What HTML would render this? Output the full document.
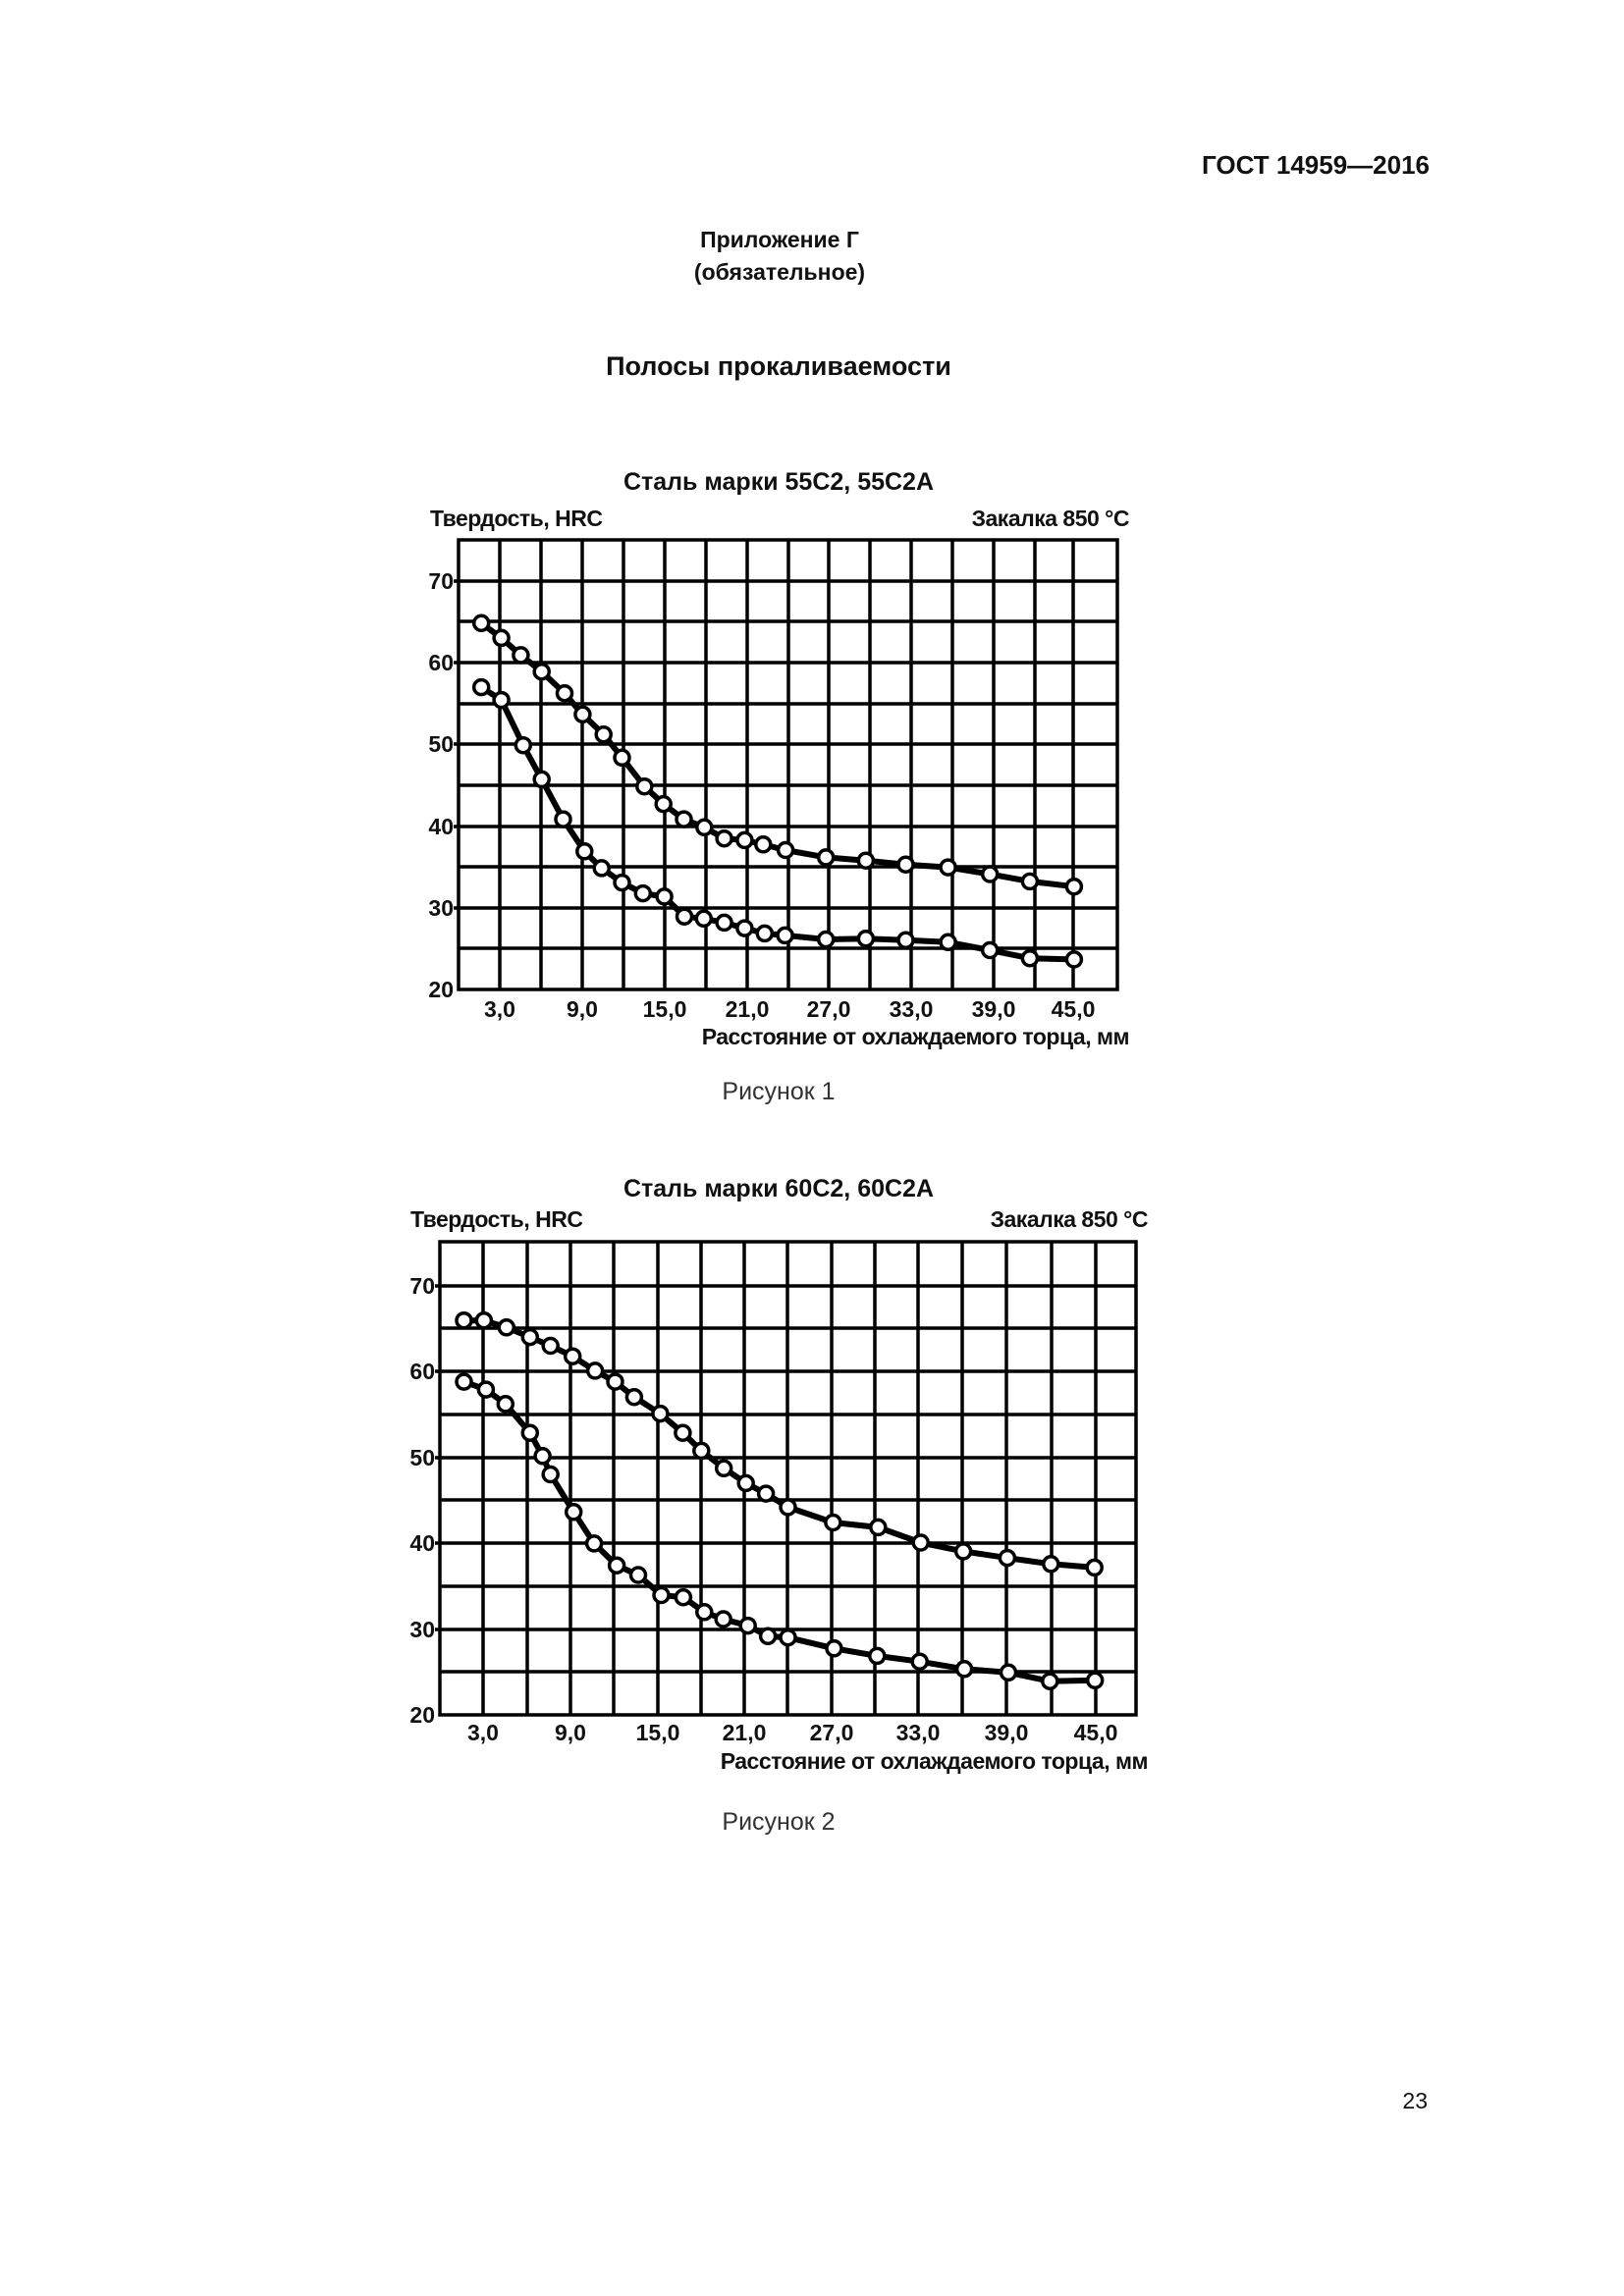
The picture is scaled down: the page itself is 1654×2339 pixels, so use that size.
<!DOCTYPE html>
<html><head><meta charset="utf-8"><style>
html,body{margin:0;padding:0;background:#fff}
svg{display:block}
text{font-family:"Liberation Sans",Arial,sans-serif;fill:#111}
.b{font-weight:bold}
.g line{stroke:#000;stroke-width:3.5}
.d{fill:none;stroke:#000;stroke-width:6;stroke-linejoin:round}
.c circle{fill:#fff;stroke:#000;stroke-width:3.5}
</style></head><body>
<svg width="1654" height="2339" viewBox="0 0 1654 2339" xmlns="http://www.w3.org/2000/svg">
<text x="1456" y="177" class="b" font-size="26" text-anchor="end">ГОСТ 14959—2016</text>
<text x="794" y="252" class="b" font-size="23" text-anchor="middle">Приложение Г</text>
<text x="794" y="285" class="b" font-size="23" text-anchor="middle">(обязательное)</text>
<text x="793" y="382" class="b" font-size="27" text-anchor="middle">Полосы прокаливаемости</text>

<!-- Chart 1 -->
<text x="793" y="499" class="b" font-size="25" text-anchor="middle">Сталь марки 55С2, 55С2А</text>
<text x="438" y="536" class="b" font-size="23" letter-spacing="-0.5">Твердость, HRC</text>
<text x="1150" y="536" class="b" font-size="23" text-anchor="end" letter-spacing="-0.5">Закалка 850 °С</text>
<g class="g">
<rect x="467" y="550" width="671" height="458" fill="none" stroke="#000" stroke-width="3.5"/>
<line x1="509" y1="550" x2="509" y2="1008"/><line x1="551" y1="550" x2="551" y2="1008"/><line x1="593" y1="550" x2="593" y2="1008"/><line x1="635" y1="550" x2="635" y2="1008"/><line x1="677" y1="550" x2="677" y2="1008"/><line x1="719" y1="550" x2="719" y2="1008"/><line x1="761" y1="550" x2="761" y2="1008"/><line x1="803" y1="550" x2="803" y2="1008"/><line x1="844" y1="550" x2="844" y2="1008"/><line x1="886" y1="550" x2="886" y2="1008"/><line x1="928" y1="550" x2="928" y2="1008"/><line x1="970" y1="550" x2="970" y2="1008"/><line x1="1012" y1="550" x2="1012" y2="1008"/><line x1="1054" y1="550" x2="1054" y2="1008"/><line x1="1093" y1="550" x2="1093" y2="1008"/>
<line x1="462" y1="592" x2="1138" y2="592"/><line x1="467" y1="633" x2="1138" y2="633"/><line x1="462" y1="675" x2="1138" y2="675"/><line x1="467" y1="717" x2="1138" y2="717"/><line x1="462" y1="758" x2="1138" y2="758"/><line x1="467" y1="800" x2="1138" y2="800"/><line x1="462" y1="842" x2="1138" y2="842"/><line x1="467" y1="883" x2="1138" y2="883"/><line x1="462" y1="925" x2="1138" y2="925"/><line x1="467" y1="966" x2="1138" y2="966"/>
</g>
<g class="b" font-size="23" text-anchor="end">
<text x="462" y="600">70</text><text x="462" y="683">60</text><text x="462" y="766">50</text><text x="462" y="850">40</text><text x="462" y="933">30</text><text x="462" y="1016">20</text>
</g>
<g class="b" font-size="23" text-anchor="middle">
<text x="509" y="1036">3,0</text><text x="593" y="1036">9,0</text><text x="677" y="1036">15,0</text><text x="761" y="1036">21,0</text><text x="844" y="1036">27,0</text><text x="928" y="1036">33,0</text><text x="1012" y="1036">39,0</text><text x="1093" y="1036">45,0</text>
</g>
<text x="1150" y="1064" class="b" font-size="23" text-anchor="end" letter-spacing="-0.5">Расстояние от охлаждаемого торца, мм</text>
<polyline class="d" points="490.2,634.8 510.6,649.9 530.4,667.4 551.7,684.2 575,706.2 593.4,727.8 614.7,748.2 633.5,771.8 656.3,801.2 675.7,819.1 696.5,834.6 717.3,842.8 737.6,854.2 758.4,855.9 777.3,860.3 800.1,866 841.2,873.4 881.9,876.7 922.5,880.7 965.6,883.6 1008.2,890.5 1048.9,897.9 1093.9,903.2"/>
<polyline class="d" points="490.2,700.1 510.6,713.1 532.8,759.2 551.7,793.9 573.5,834.6 595.3,867.3 612.7,884.4 633.5,899.1 654.8,910.1 676.6,913.4 697,933.7 716.8,935.8 737.6,939.9 758.4,945.6 778.8,950.9 799.6,952.9 841.2,957 881.9,956.2 922.5,957.8 965.6,959.8 1008.2,968 1048.9,976.2 1093.9,977.4"/>
<g class="c">
<circle cx="490.2" cy="634.8" r="7.5"/><circle cx="510.6" cy="649.9" r="7.5"/><circle cx="530.4" cy="667.4" r="7.5"/><circle cx="551.7" cy="684.2" r="7.5"/><circle cx="575" cy="706.2" r="7.5"/><circle cx="593.4" cy="727.8" r="7.5"/><circle cx="614.7" cy="748.2" r="7.5"/><circle cx="633.5" cy="771.8" r="7.5"/><circle cx="656.3" cy="801.2" r="7.5"/><circle cx="675.7" cy="819.1" r="7.5"/><circle cx="696.5" cy="834.6" r="7.5"/><circle cx="717.3" cy="842.8" r="7.5"/><circle cx="737.6" cy="854.2" r="7.5"/><circle cx="758.4" cy="855.9" r="7.5"/><circle cx="777.3" cy="860.3" r="7.5"/><circle cx="800.1" cy="866" r="7.5"/><circle cx="841.2" cy="873.4" r="7.5"/><circle cx="881.9" cy="876.7" r="7.5"/><circle cx="922.5" cy="880.7" r="7.5"/><circle cx="965.6" cy="883.6" r="7.5"/><circle cx="1008.2" cy="890.5" r="7.5"/><circle cx="1048.9" cy="897.9" r="7.5"/><circle cx="1093.9" cy="903.2" r="7.5"/>
<circle cx="490.2" cy="700.1" r="7.5"/><circle cx="510.6" cy="713.1" r="7.5"/><circle cx="532.8" cy="759.2" r="7.5"/><circle cx="551.7" cy="793.9" r="7.5"/><circle cx="573.5" cy="834.6" r="7.5"/><circle cx="595.3" cy="867.3" r="7.5"/><circle cx="612.7" cy="884.4" r="7.5"/><circle cx="633.5" cy="899.1" r="7.5"/><circle cx="654.8" cy="910.1" r="7.5"/><circle cx="676.6" cy="913.4" r="7.5"/><circle cx="697" cy="933.7" r="7.5"/><circle cx="716.8" cy="935.8" r="7.5"/><circle cx="737.6" cy="939.9" r="7.5"/><circle cx="758.4" cy="945.6" r="7.5"/><circle cx="778.8" cy="950.9" r="7.5"/><circle cx="799.6" cy="952.9" r="7.5"/><circle cx="841.2" cy="957" r="7.5"/><circle cx="881.9" cy="956.2" r="7.5"/><circle cx="922.5" cy="957.8" r="7.5"/><circle cx="965.6" cy="959.8" r="7.5"/><circle cx="1008.2" cy="968" r="7.5"/><circle cx="1048.9" cy="976.2" r="7.5"/><circle cx="1093.9" cy="977.4" r="7.5"/>
</g>
<text x="793" y="1120" font-size="25" text-anchor="middle" style="fill:#333">Рисунок 1</text>

<!-- Chart 2 -->
<text x="793" y="1219" class="b" font-size="25" text-anchor="middle">Сталь марки 60С2, 60С2А</text>
<text x="418" y="1259" class="b" font-size="23" letter-spacing="-0.5" transform="translate(0,-9)">Твердость, HRC</text>
<text x="1169" y="1250" class="b" font-size="23" text-anchor="end" letter-spacing="-0.5">Закалка 850 °С</text>
<g class="g">
<rect x="448" y="1265" width="709" height="482" fill="none" stroke="#000" stroke-width="3.5"/>
<line x1="492" y1="1265" x2="492" y2="1747"/><line x1="537" y1="1265" x2="537" y2="1747"/><line x1="581" y1="1265" x2="581" y2="1747"/><line x1="625" y1="1265" x2="625" y2="1747"/><line x1="670" y1="1265" x2="670" y2="1747"/><line x1="714" y1="1265" x2="714" y2="1747"/><line x1="758" y1="1265" x2="758" y2="1747"/><line x1="802" y1="1265" x2="802" y2="1747"/><line x1="847" y1="1265" x2="847" y2="1747"/><line x1="891" y1="1265" x2="891" y2="1747"/><line x1="935" y1="1265" x2="935" y2="1747"/><line x1="980" y1="1265" x2="980" y2="1747"/><line x1="1025" y1="1265" x2="1025" y2="1747"/><line x1="1071" y1="1265" x2="1071" y2="1747"/><line x1="1116" y1="1265" x2="1116" y2="1747"/>
<line x1="443" y1="1310" x2="1157" y2="1310"/><line x1="448" y1="1353" x2="1157" y2="1353"/><line x1="443" y1="1397" x2="1157" y2="1397"/><line x1="448" y1="1441" x2="1157" y2="1441"/><line x1="443" y1="1485" x2="1157" y2="1485"/><line x1="448" y1="1528" x2="1157" y2="1528"/><line x1="443" y1="1572" x2="1157" y2="1572"/><line x1="448" y1="1616" x2="1157" y2="1616"/><line x1="443" y1="1660" x2="1157" y2="1660"/><line x1="448" y1="1703" x2="1157" y2="1703"/>
</g>
<g class="b" font-size="23" text-anchor="end">
<text x="443" y="1318">70</text><text x="443" y="1405">60</text><text x="443" y="1493">50</text><text x="443" y="1580">40</text><text x="443" y="1668">30</text><text x="443" y="1755">20</text>
</g>
<g class="b" font-size="23" text-anchor="middle">
<text x="492" y="1773">3,0</text><text x="581" y="1773">9,0</text><text x="670" y="1773">15,0</text><text x="758" y="1773">21,0</text><text x="847" y="1773">27,0</text><text x="935" y="1773">33,0</text><text x="1025" y="1773">39,0</text><text x="1116" y="1773">45,0</text>
</g>
<text x="1169" y="1802" class="b" font-size="23" text-anchor="end" letter-spacing="-0.5">Расстояние от охлаждаемого торца, мм</text>
<polyline class="d" points="472.5,1345.2 492.9,1345.2 515.8,1352.3 539.8,1362.1 560.7,1371 583.2,1381.7 606.1,1396.4 626.5,1407.6 645.9,1423.2 672.4,1440.1 695.4,1459.7 714.3,1477.9 737.2,1495.8 759.7,1510.9 780.1,1521.6 802.5,1535.4 848.4,1551 894.3,1555.9 937.7,1571.5 981.1,1580.4 1025.9,1587.1 1070.3,1593.3 1114.7,1596.9"/>
<polyline class="d" points="472.5,1407.6 494.9,1415.6 514.8,1430.3 539.8,1459.7 552.6,1483.3 560.7,1502 584.2,1540.3 605.1,1572.4 628.1,1594.7 650,1604.5 673.5,1625 695.9,1627.2 717.3,1642.3 736.7,1649.5 761.7,1656.1 782.1,1666.8 802.5,1668.2 849.5,1679.3 893.3,1686.9 936.7,1692.7 982.1,1700.3 1027,1703.8 1069.3,1712.7 1115.2,1711.8"/>
<g class="c">
<circle cx="472.5" cy="1345.2" r="7.5"/><circle cx="492.9" cy="1345.2" r="7.5"/><circle cx="515.8" cy="1352.3" r="7.5"/><circle cx="539.8" cy="1362.1" r="7.5"/><circle cx="560.7" cy="1371" r="7.5"/><circle cx="583.2" cy="1381.7" r="7.5"/><circle cx="606.1" cy="1396.4" r="7.5"/><circle cx="626.5" cy="1407.6" r="7.5"/><circle cx="645.9" cy="1423.2" r="7.5"/><circle cx="672.4" cy="1440.1" r="7.5"/><circle cx="695.4" cy="1459.7" r="7.5"/><circle cx="714.3" cy="1477.9" r="7.5"/><circle cx="737.2" cy="1495.8" r="7.5"/><circle cx="759.7" cy="1510.9" r="7.5"/><circle cx="780.1" cy="1521.6" r="7.5"/><circle cx="802.5" cy="1535.4" r="7.5"/><circle cx="848.4" cy="1551" r="7.5"/><circle cx="894.3" cy="1555.9" r="7.5"/><circle cx="937.7" cy="1571.5" r="7.5"/><circle cx="981.1" cy="1580.4" r="7.5"/><circle cx="1025.9" cy="1587.1" r="7.5"/><circle cx="1070.3" cy="1593.3" r="7.5"/><circle cx="1114.7" cy="1596.9" r="7.5"/>
<circle cx="472.5" cy="1407.6" r="7.5"/><circle cx="494.9" cy="1415.6" r="7.5"/><circle cx="514.8" cy="1430.3" r="7.5"/><circle cx="539.8" cy="1459.7" r="7.5"/><circle cx="552.6" cy="1483.3" r="7.5"/><circle cx="560.7" cy="1502" r="7.5"/><circle cx="584.2" cy="1540.3" r="7.5"/><circle cx="605.1" cy="1572.4" r="7.5"/><circle cx="628.1" cy="1594.7" r="7.5"/><circle cx="650" cy="1604.5" r="7.5"/><circle cx="673.5" cy="1625" r="7.5"/><circle cx="695.9" cy="1627.2" r="7.5"/><circle cx="717.3" cy="1642.3" r="7.5"/><circle cx="736.7" cy="1649.5" r="7.5"/><circle cx="761.7" cy="1656.1" r="7.5"/><circle cx="782.1" cy="1666.8" r="7.5"/><circle cx="802.5" cy="1668.2" r="7.5"/><circle cx="849.5" cy="1679.3" r="7.5"/><circle cx="893.3" cy="1686.9" r="7.5"/><circle cx="936.7" cy="1692.7" r="7.5"/><circle cx="982.1" cy="1700.3" r="7.5"/><circle cx="1027" cy="1703.8" r="7.5"/><circle cx="1069.3" cy="1712.7" r="7.5"/><circle cx="1115.2" cy="1711.8" r="7.5"/>
</g>
<text x="793" y="1864" font-size="25" text-anchor="middle" style="fill:#333">Рисунок 2</text>

<text x="1454" y="2148" font-size="23" text-anchor="end">23</text>
</svg>
</body></html>
